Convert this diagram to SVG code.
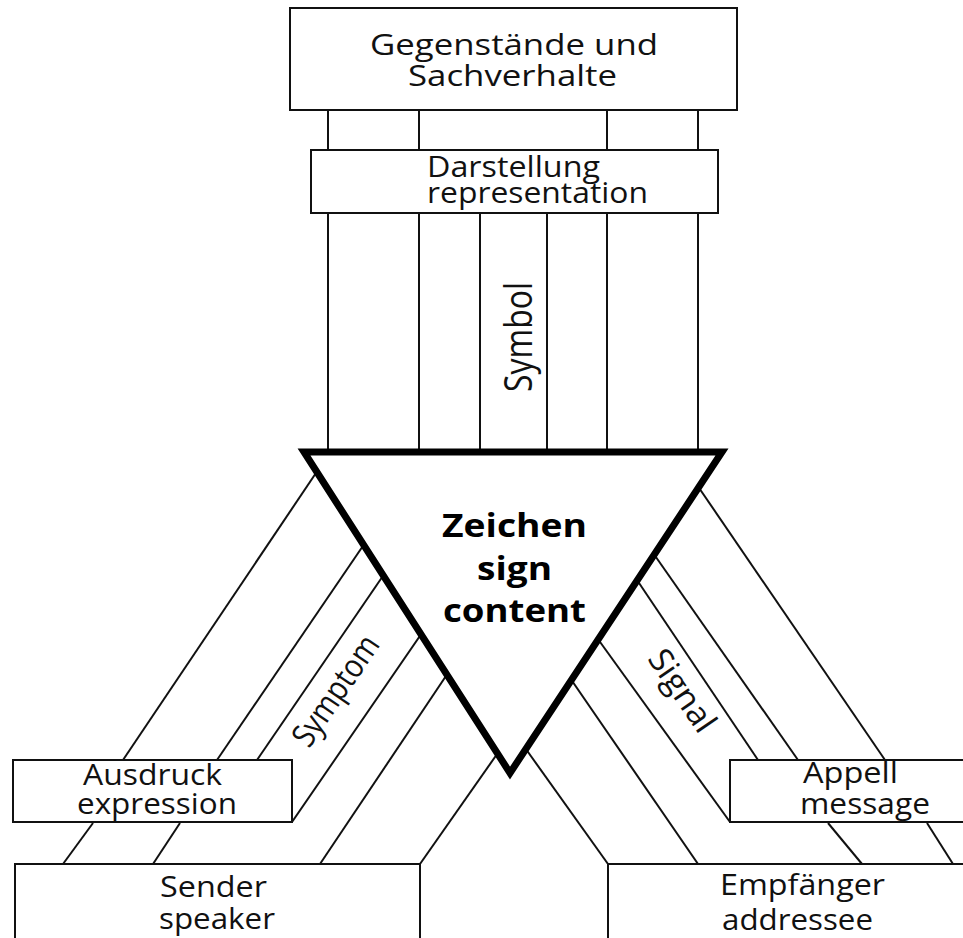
<svg xmlns="http://www.w3.org/2000/svg" width="963" height="938" viewBox="0 0 963 938">
<style>
  .box { fill: #fff; stroke: #111; stroke-width: 2; }
  .ln { stroke: #111; stroke-width: 2; fill: none; stroke-linecap: butt; }
  .tri { fill: #fff; stroke: #000; stroke-width: 7; stroke-linejoin: miter; stroke-miterlimit: 10; }
  .t { font-family: "Open Sans", "Noto Sans", "Liberation Sans", sans-serif; font-size: 29px; fill: #111; }
  .v { font-family: "Open Sans", "Noto Sans", "Liberation Sans", sans-serif; fill: #111; }
  .b { font-family: "Open Sans", "Noto Sans", "Liberation Sans", sans-serif; font-size: 32px; font-weight: bold; fill: #000; }
</style>
<rect width="963" height="938" fill="#fff"/>
<g id="connectors">
  <line class="ln" x1="328" y1="110" x2="328" y2="150"/>
  <line class="ln" x1="419" y1="110" x2="419" y2="150"/>
  <line class="ln" x1="607" y1="110" x2="607" y2="150"/>
  <line class="ln" x1="698" y1="110" x2="698" y2="150"/>
  <line class="ln" x1="328" y1="213" x2="328" y2="460"/>
  <line class="ln" x1="419" y1="213" x2="419" y2="460"/>
  <line class="ln" x1="480" y1="213" x2="480" y2="460"/>
  <line class="ln" x1="547" y1="213" x2="547" y2="460"/>
  <line class="ln" x1="607" y1="213" x2="607" y2="460"/>
  <line class="ln" x1="698" y1="213" x2="698" y2="460"/>
  <line class="ln" x1="320" y1="467" x2="123" y2="760"/>
  <line class="ln" x1="93" y1="823" x2="63" y2="864"/>
  <line class="ln" x1="367" y1="540" x2="217" y2="760"/>
  <line class="ln" x1="180" y1="823" x2="153" y2="864"/>
  <line class="ln" x1="387" y1="570" x2="257" y2="760"/>
  <line class="ln" x1="424" y1="630" x2="292" y2="822"/>
  <line class="ln" x1="450" y1="670" x2="320" y2="864"/>
  <line class="ln" x1="502" y1="747" x2="420" y2="864"/>
  <line class="ln" x1="695" y1="482" x2="885" y2="760"/>
  <line class="ln" x1="927" y1="823" x2="953" y2="864"/>
  <line class="ln" x1="651" y1="550" x2="798" y2="760"/>
  <line class="ln" x1="828" y1="823" x2="862" y2="864"/>
  <line class="ln" x1="635" y1="577" x2="758" y2="760"/>
  <line class="ln" x1="595" y1="635" x2="730" y2="822"/>
  <line class="ln" x1="568" y1="675" x2="698" y2="864"/>
  <line class="ln" x1="523" y1="745" x2="608" y2="864"/>
</g>
<g id="labels">
  <text class="v" transform="translate(532,392) rotate(-90)" style="font-size:39px" textLength="110" lengthAdjust="spacingAndGlyphs">Symbol</text>
  <text class="v" transform="translate(345,697) rotate(-55.5)" style="font-size:33px" text-anchor="middle" textLength="127" lengthAdjust="spacingAndGlyphs">Symptom</text>
  <text class="v" transform="translate(673,697) rotate(55.5)" style="font-size:33px" text-anchor="middle" textLength="93" lengthAdjust="spacingAndGlyphs">Signal</text>
</g>
<g id="gegenstaende">
  <rect class="box" x="290" y="8" width="447" height="102"/>
  <text class="t" x="370" y="55" textLength="288" lengthAdjust="spacingAndGlyphs">Gegenstände und</text>
  <text class="t" x="408" y="86" textLength="209" lengthAdjust="spacingAndGlyphs">Sachverhalte</text>
</g>
<g id="darstellung">
  <rect class="box" x="311" y="150" width="407" height="63"/>
  <text class="t" x="427" y="177" textLength="173" lengthAdjust="spacingAndGlyphs">Darstellung</text>
  <text class="t" x="427" y="203" textLength="221" lengthAdjust="spacingAndGlyphs">representation</text>
</g>
<g id="zeichen">
  <polygon class="tri" points="304,452 722,452 510,773"/>
  <text class="b" x="442" y="537" textLength="145" lengthAdjust="spacingAndGlyphs">Zeichen</text>
  <text class="b" x="477" y="580" textLength="75" lengthAdjust="spacingAndGlyphs">sign</text>
  <text class="b" x="443" y="622" textLength="143" lengthAdjust="spacingAndGlyphs">content</text>
</g>
<g id="ausdruck">
  <rect class="box" x="13" y="760" width="279" height="62"/>
  <text class="t" x="83" y="785" textLength="139" lengthAdjust="spacingAndGlyphs">Ausdruck</text>
  <text class="t" x="77" y="814" textLength="160" lengthAdjust="spacingAndGlyphs">expression</text>
</g>
<g id="appell">
  <rect class="box" x="730" y="760" width="260" height="62"/>
  <text class="t" x="803" y="783" textLength="95" lengthAdjust="spacingAndGlyphs">Appell</text>
  <text class="t" x="800" y="814" textLength="130" lengthAdjust="spacingAndGlyphs">message</text>
</g>
<g id="sender">
  <rect class="box" x="15" y="864" width="405" height="100"/>
  <text class="t" x="160" y="897" textLength="107" lengthAdjust="spacingAndGlyphs">Sender</text>
  <text class="t" x="159" y="929" textLength="116" lengthAdjust="spacingAndGlyphs">speaker</text>
</g>
<g id="empfaenger">
  <rect class="box" x="608" y="864" width="400" height="100"/>
  <text class="t" x="720" y="895" textLength="165" lengthAdjust="spacingAndGlyphs">Empfänger</text>
  <text class="t" x="722" y="930" textLength="151" lengthAdjust="spacingAndGlyphs">addressee</text>
</g>
</svg>
